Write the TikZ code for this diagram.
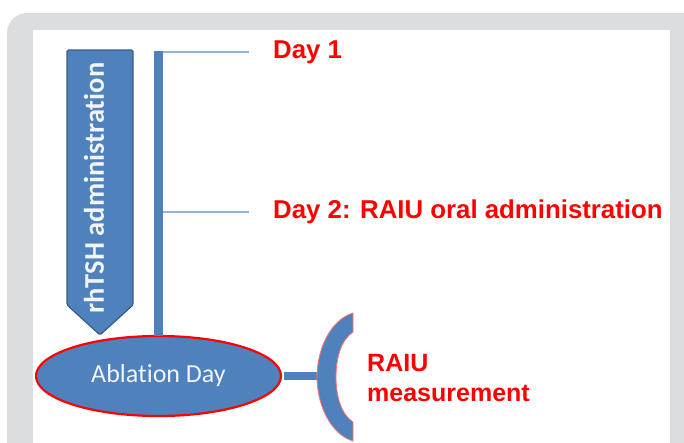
\documentclass[tikz,border=0pt]{standalone}
\usepackage{fontspec}
\setmainfont{Liberation Sans}
\newfontfamily\bodyfont[Ligatures=NoCommon]{Carlito}
\usetikzlibrary{shapes.geometric,positioning,calc}
\definecolor{BarBlue}{HTML}{4F81BD}
\definecolor{EdgeBlue}{HTML}{385D8A}
\definecolor{TickBlue}{HTML}{8EB4E3}
\definecolor{PanelGray}{HTML}{DCDDDF}
\definecolor{LabelRed}{HTML}{FF0000}
\definecolor{SoftWhite}{HTML}{F2F4F8}

\begin{document}
\begin{tikzpicture}[x=1pt,y=-1pt,
  redlabel/.style={anchor=base west,inner sep=0pt,text=LabelRed,font=\fontsize{25.8}{30}\selectfont\bfseries},
  tickline/.style={TickBlue,line width=1.6pt},
  thickbar/.style={BarBlue,line width=#1}]
\clip (0,0) rectangle (684,442);
% panel
\fill[PanelGray,rounded corners=20pt] (7,13) rectangle (710,470);
\fill[white] (33,30) rectangle (670,470);
% rhTSH arrow
\draw[fill=BarBlue,draw=EdgeBlue,line width=1.2pt,rounded corners=1.5pt] (67,50) -- (133,50) -- (133,305) -- (100,335) -- (67,305) -- cycle;
\node[rotate=90,inner sep=0pt,text=SoftWhite,font=\bodyfont\bfseries\fontsize{28.5}{28.5}\selectfont] (rhtsh) at (94,188) {rhTSH administration};
% days
\node[ellipse,fill=BarBlue,draw=LabelRed,line width=2.2pt,minimum width=245pt,minimum height=80pt,inner sep=0pt,
  text=SoftWhite,font=\bodyfont\fontsize{26}{26}\selectfont] (ablation) at (158.5,376) {Ablation Day};
\coordinate (bartop) at (158.5,51);
\foreach \i/\y/\t in {1/52/Day 1,2/212/Day 2: RAIU oral administration} {
  \coordinate (tick\i) at (249,\y);
  \draw[tickline] (bartop |- tick\i) -- (tick\i);
  \node[redlabel] (day\i) at (273,\y+6) {\t};
}
\draw[thickbar=9pt] (bartop) -- ($(ablation.north)+(0,1)$);
% measurement
\coordinate (brk) at (320,377);
\draw[thickbar=8pt] ($(ablation.east)+(1.5,0)$) -- (ablation.east -| brk);
\filldraw[fill=BarBlue,draw=red!55,line width=0.8pt] (353,313) .. controls (330,320) and (317,350) .. (317,377)
  .. controls (317,404) and (330,434) .. (353,441) -- (353,422)
  .. controls (341,414) and (336,396) .. (336,377) .. controls (336,358) and (341,340) .. (353,332) -- cycle;
\node[redlabel,font=\fontsize{25}{30}\selectfont\bfseries] (raiu) at (367,371) {RAIU};
\node[redlabel,font=\fontsize{25}{30}\selectfont\bfseries] (meas) at (367,401) {measurement};
\end{tikzpicture}
\end{document}
